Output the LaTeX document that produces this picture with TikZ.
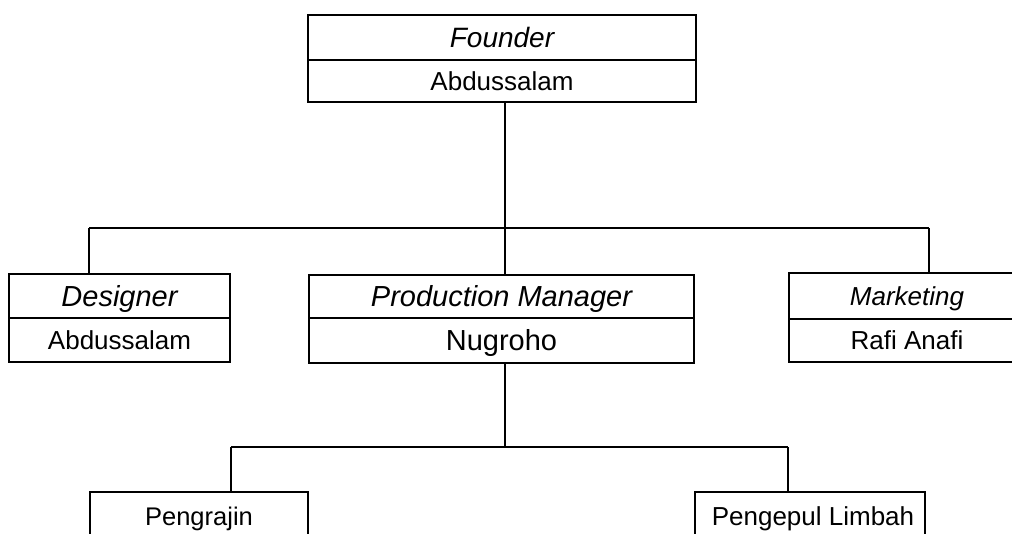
\documentclass[tikz,border=0pt]{standalone}
\usepackage{fontspec}
\setmainfont{Liberation Sans}
\begin{document}
\begin{tikzpicture}[x=1pt,y=-1pt,
  cell/.style={draw,line width=1.9pt,inner sep=0pt,text depth=0pt,anchor=center},
  fs/.style={font=\fontsize{#1}{#1}\selectfont,text height=0.716*#1 pt},
  link/.style={line width=1.9pt}]
\useasboundingbox (0,0) rectangle (1012,534);
\clip (0,0) rectangle (1012,534);
\fill[white] (0,0) rectangle (1012,534);
% Founder
\node[cell,fs=28,minimum width=388pt,minimum height=45pt] (fT) at (502,37.5) {\itshape Founder};
\node[cell,fs=26,minimum width=388pt,minimum height=42pt] (fB) at (502,81) {Abdussalam};
% Designer
\node[cell,fs=29,minimum width=221pt,minimum height=44pt] (dT) at (119.5,296) {\itshape Designer};
\node[cell,fs=26,minimum width=221pt,minimum height=44pt] (dB) at (119.5,340) {Abdussalam};
% Production Manager
\node[cell,fs=29,minimum width=385pt,minimum height=43pt] (pT) at (501.5,296.5) {\itshape Production Manager};
\node[cell,fs=29,minimum width=385pt,minimum height=45pt] (pB) at (501.5,340.5) {Nugroho};
% Marketing (cut off by the right page edge)
\node[cell,fs=26,minimum width=236pt,minimum height=46pt] (mT) at (907,296) {\itshape Marketing};
\node[cell,fs=26,minimum width=236pt,minimum height=43pt] (mB) at (907,340.5) {Rafi Anafi};
% Bottom row (cut off by the page edge)
\node[cell,minimum width=218pt,minimum height=66pt] (pg) at (199,525) {};
\node[cell,minimum width=230pt,minimum height=66pt] (pl) at (810,525) {};
\node[fs=25.5,inner sep=0pt,anchor=base] (pgt) at (199,525) {Pengrajin};
\node[fs=26,inner sep=0pt,anchor=base] (plt) at (813,525) {Pengepul Limbah};
% bus coordinates
\coordinate (b1) at (505,228);
\coordinate (b1l) at (89,228);
\coordinate (b1r) at (929,228);
\coordinate (b2) at (505,447);
\coordinate (b2l) at (231,447);
\coordinate (b2r) at (788,447);
% connectors
\draw[link] (fB.south -| b1) -- (pT.north -| b1);
\draw[link] (b1l) -- (b1r);
\draw[link] (b1l) -- (dT.north -| b1l);
\draw[link] (b1r) -- (mT.north -| b1r);
\draw[link] (pB.south -| b2) -- (b2);
\draw[link] (b2l) -- (b2r);
\draw[link] (b2l) -- (pg.north -| b2l);
\draw[link] (b2r) -- (pl.north -| b2r);
\end{tikzpicture}
\end{document}
